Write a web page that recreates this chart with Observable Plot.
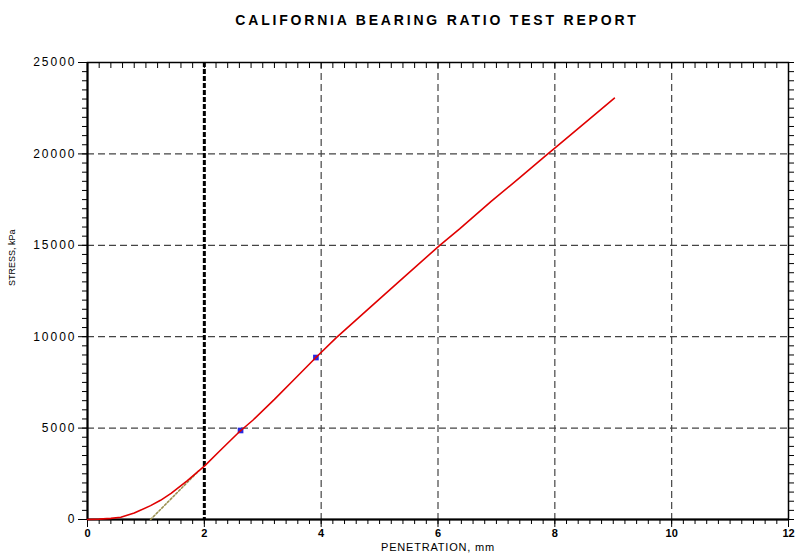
<!DOCTYPE html>
<html><head><meta charset="utf-8">
<script src="https://cdn.jsdelivr.net/npm/d3@7"></script>
<script src="https://cdn.jsdelivr.net/npm/@observablehq/plot@0.6"></script>
<style>
body{margin:0;background:#fff}
</style></head><body><div id="chart"></div>
<script>
// Stress–penetration curve (mm, kPa)
const penetration = [0, 0.2, 0.4, 0.57, 0.8, 1.08, 1.25, 1.43, 1.71, 2.01, 2.28, 2.6, 2.83, 3.2, 3.55, 3.91, 4.26, 4.8, 5.37, 6.03, 6.37, 6.91, 7.4, 7.88, 8.03, 8.5, 9.02];
const stress      = [0, 20, 60, 125, 350, 760, 1050, 1430, 2130, 2950, 3800, 4800, 5430, 6570, 7700, 8860, 9950, 11500, 13120, 15000, 15900, 17400, 18700, 20000, 20400, 21650, 23050];
// marked points
const markerPen = [2.62, 3.91];
const markerStress = [4870, 8860];
// zero-correction tangent line
const corrPen = [1.08, 1.9];
const corrStress = [0, 2650];
// ticks
const xMajorTicks = [0, 2, 4, 6, 8, 10, 12];
const yMajorTicks = [0, 5000, 10000, 15000, 20000, 25000];
const xGrid = [4, 6, 8, 10];
const yGrid = [5000, 10000, 15000, 20000];
const xMinorTicks = d3.range(0, 61).map(i => i / 5);
const yMinorTicks = d3.range(0, 51).map(i => i * 500);
const refLine = [2];
const titleText = "CALIFORNIA BEARING RATIO TEST REPORT";
const xLabelText = "PENETRATION, mm";
const yLabelText = "STRESS, kPa";

const curve = penetration.map((p, i) => ({p, s: stress[i]}));
const markers = markerPen.map((p, i) => ({p, s: markerStress[i]}));
const corr = corrPen.map((p, i) => ({p, s: corrStress[i]}));

const font = "Liberation Sans, Arial, sans-serif";

const plot = Plot.plot({
  width: 795, height: 560,
  marginLeft: 87, marginRight: 7, marginTop: 62, marginBottom: 41,
  style: {fontFamily: font, background: "#fff", color: "#000"},
  x: {domain: [0, 12], label: null},
  y: {domain: [0, 25000], label: null},
  marks: [
    Plot.gridX(xGrid, {stroke: "#444", strokeOpacity: 1, strokeWidth: 1.2, strokeDasharray: "7,4"}),
    Plot.gridY(yGrid, {stroke: "#444", strokeOpacity: 1, strokeWidth: 1.2, strokeDasharray: "7,4"}),
    Plot.ruleX(refLine, {stroke: "#000", strokeWidth: 3, strokeDasharray: "5,2"}),
    Plot.axisX({anchor: "bottom", ticks: xMinorTicks, tickSize: 5, text: null, label: null}),
    Plot.axisX({anchor: "bottom", ticks: xMajorTicks, tickSize: 8, tickPadding: 2, fontSize: 11, fontWeight: "bold", tickFormat: d => String(d), label: null}),
    Plot.axisX({anchor: "top", ticks: xMinorTicks, tickSize: -5, text: null, label: null}),
    Plot.axisY({anchor: "left", ticks: yMinorTicks, tickSize: 5, text: null, label: null}),
    Plot.axisY({anchor: "left", ticks: yMajorTicks, tickSize: 9, tickPadding: 4, fontSize: 12, tickFormat: d => String(d), label: null}),
    Plot.axisY({anchor: "right", ticks: yMinorTicks, tickSize: 5, text: null, label: null}),
    Plot.frame({stroke: "#000", strokeWidth: 1.5}),
    Plot.ruleY([0], {stroke: "#000", strokeWidth: 2}),
    Plot.ruleX([0], {stroke: "#000", strokeWidth: 2}),
    Plot.line(corr, {x: "p", y: "s", stroke: "#9a9050", strokeWidth: 1.6, strokeDasharray: "2,2"}),
    Plot.dot(markers, {x: "p", y: "s", symbol: "square", r: 3.2, fill: "#2828e0", stroke: "none"}),
    Plot.line(curve, {x: "p", y: "s", stroke: "#e00000", strokeWidth: 1.6}),
    Plot.text([titleText], {frameAnchor: "top", dy: -47, fontSize: 14, fontWeight: "bold"}),
    Plot.text([xLabelText], {frameAnchor: "bottom", dy: 31, fontSize: 11}),
    Plot.text([yLabelText], {frameAnchor: "left", dx: -75, dy: -5, rotate: -90, fontSize: 9})
  ]
});
document.getElementById("chart").appendChild(plot);
const yLabels = new Set(yMajorTicks.map(String));
d3.select(plot).selectAll("text").each(function() {
  const t = this.textContent;
  if (t === titleText) { this.style.letterSpacing = "2.8px"; this.setAttribute("dx", "-1"); }
  else if (t === xLabelText) { this.style.letterSpacing = "0.8px"; }
  else if (yLabels.has(t) && this.closest('g[aria-label="y-axis tick label"]')) { this.style.letterSpacing = "2px"; this.setAttribute("dx", "2"); }
});
</script></body></html>
